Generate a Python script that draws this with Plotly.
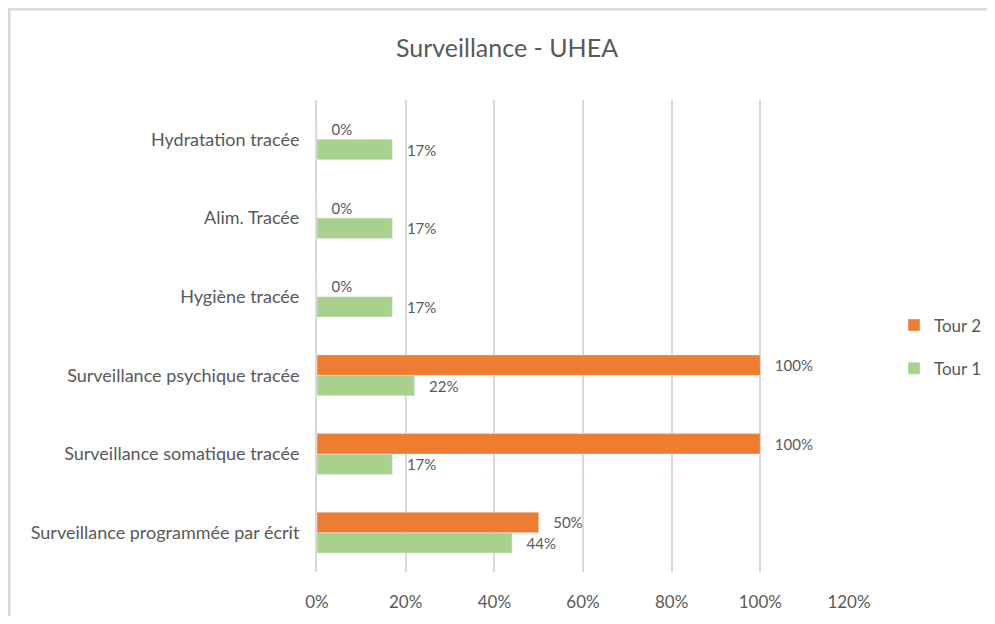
import plotly.graph_objects as go

categories = [
    "Surveillance programmée par écrit",
    "Surveillance somatique tracée",
    "Surveillance psychique tracée",
    "Hygiène tracée",
    "Alim. Tracée",
    "Hydratation tracée",
]
tour1 = [0.44, 0.17, 0.22, 0.17, 0.17, 0.17]
tour2 = [0.50, 1.00, 1.00, 0.00, 0.00, 0.00]
x_ticks = [0, 0.2, 0.4, 0.6, 0.8, 1.0, 1.2]
x_tick_labels = ["0%", "20%", "40%", "60%", "80%", "100%", "120%"]

GREEN = "#a9d18e"
ORANGE = "#ed7d31"
GREY = "#595959"
LINE = "#d9d9d9"
FONT = "Lato"

# page is offset by the 8px body margin
OFF = 8
W, H = 995 - 2 * OFF, 624 - 2 * OFF
L = 317 - OFF
R = W - (849 - OFF)
T = 100 - OFF
B = H - (572 - OFF)
PW, PH = W - L - R, H - T - B

def px_x(x):
    return (x - L) / PW

def px_y(y):
    return (H - B - y) / PH

PAD = "\u00a0\u00a0\u00a0"

fig = go.Figure()
fig.add_trace(go.Bar(
    y=categories, x=tour1, orientation="h", name="Tour 1",
    marker=dict(color=GREEN), legendgroup="t1", legendrank=2,
    text=[f"{PAD}{round(v*100)}%" for v in tour1], textposition="outside",
    textfont=dict(size=15, color=GREY, family=FONT), cliponaxis=False,
))
fig.add_trace(go.Bar(
    y=categories, x=tour2, orientation="h", name="Tour 2",
    marker=dict(color=ORANGE), legendgroup="t2", legendrank=1,
    text=[f"{PAD}{round(v*100)}%" for v in tour2], textposition="outside",
    textfont=dict(size=15, color=GREY, family=FONT), cliponaxis=False,
))

fig.update_layout(
    width=W, height=H,
    margin=dict(l=L, r=R, t=T, b=B),
    paper_bgcolor="white", plot_bgcolor="white",
    barmode="group", bargap=0.48, bargroupgap=0,
    font=dict(family=FONT, color=GREY, size=17),
    title=dict(text="Surveillance - UHEA", x=(507 - OFF) / W, xref="container", xanchor="center",
               y=1 - (48 - OFF) / H, yref="container", yanchor="middle",
               font=dict(size=25, color=GREY, family=FONT)),
    legend=dict(traceorder="grouped", tracegroupgap=18,
                x=(909 - 15 - OFF) / W, xref="container", xanchor="left",
                y=1 - (347 - OFF) / H, yref="container", yanchor="middle",
                font=dict(size=17, color=GREY, family=FONT), itemwidth=30),
    showlegend=True,
    xaxis=dict(range=[0, 1.2], tickvals=x_ticks, ticktext=x_tick_labels,
               showgrid=True, gridcolor=LINE, gridwidth=2, automargin=False,
               zeroline=False, showline=False, ticks="",
               ticklabelstandoff=18, tickfont=dict(size=17, color=GREY)),
    yaxis=dict(showgrid=False, showline=True, linecolor=LINE, linewidth=2,
               automargin=False,
               ticks="", ticklabelstandoff=12, tickfont=dict(size=18, color=GREY)),
    shapes=[
        dict(type="line", xref="paper", yref="paper",
             x0=px_x(1), x1=px_x(1), y0=px_y(0), y1=px_y(H + 5),
             line=dict(color=LINE, width=3)),
        dict(type="line", xref="paper", yref="paper",
             x0=px_x(0), x1=px_x(W + 5), y0=px_y(1), y1=px_y(1),
             line=dict(color=LINE, width=3)),
    ],
)

fig.write_html("out.html")
